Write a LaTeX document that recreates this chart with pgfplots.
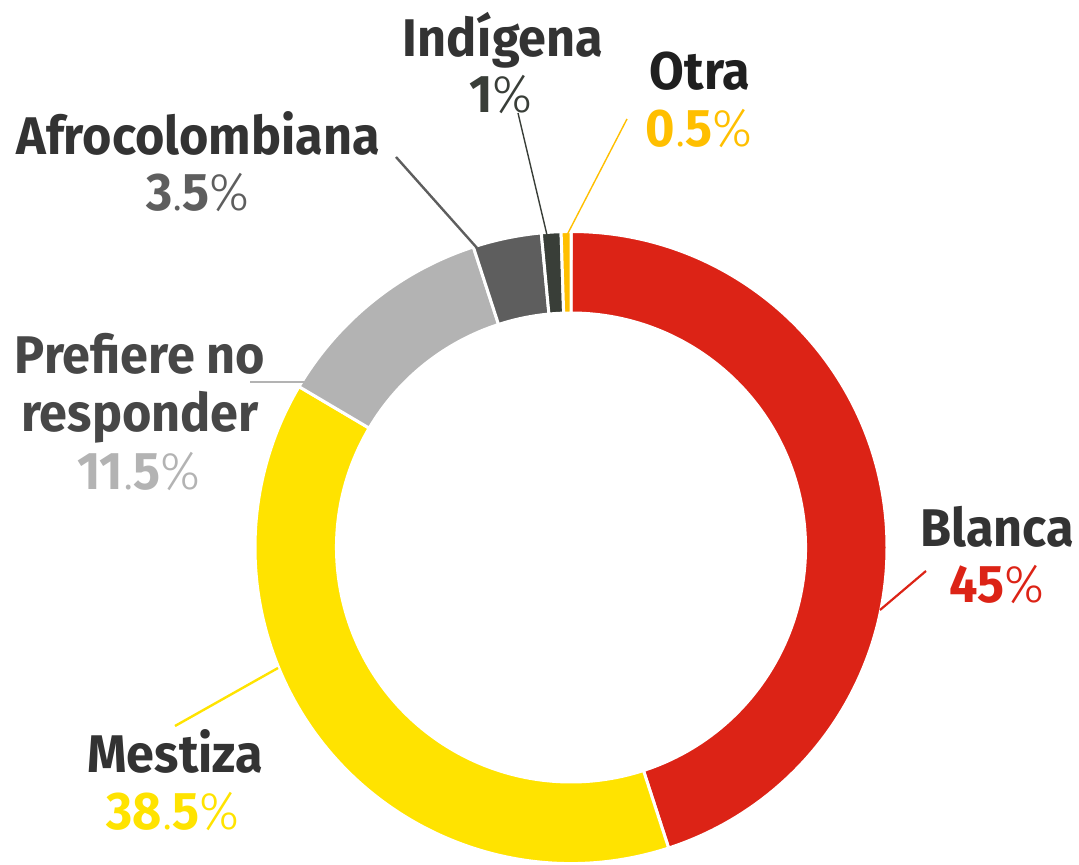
\documentclass[border=0pt]{standalone}
\usepackage{pgfplots}
\pgfplotsset{compat=1.18}
\usepackage{pgfplotstable}
\usepackage{fontspec}
\setmainfont{Fira Sans}
\newfontfamily\labf[FakeStretch=0.95]{Fira Sans Bold}
\newfontfamily\lightf[FakeStretch=0.95]{Fira Sans Light}

\definecolor{cBlanca}{HTML}{DC2316}
\definecolor{cMestiza}{HTML}{FFE300}
\definecolor{cPrefiere}{HTML}{B3B3B3}
\definecolor{cAfro}{HTML}{5E5E5E}
\definecolor{cIndigena}{HTML}{393E38}
\definecolor{cOtra}{HTML}{FFBF00}
\definecolor{txt}{HTML}{333333}

\pgfplotstableread{
label value
Blanca 45
Mestiza 38.5
Prefiere 11.5
Afro 3.5
Indigena 1
Otra 0.5
}\datatable

\def\cx{571}
\def\cy{317.5}
\def\ro{316}
\def\ri{234.5}

\gdef\cum{0}
\gdef\segs{}
\foreach \i/\c in {0/cBlanca,1/cMestiza,2/cPrefiere,3/cAfro,4/cIndigena,5/cOtra}{%
  \pgfplotstablegetelem{\i}{value}\of\datatable
  \pgfmathsetmacro\a{90-3.6*\cum}%
  \pgfmathsetmacro\b{90-3.6*(\cum+\pgfplotsretval)}%
  \pgfmathsetmacro\n{\cum+\pgfplotsretval}%
  \xdef\cum{\n}%
  \xdef\segs{\unexpanded\expandafter{\segs}%
    \noexpand\filldraw[fill=\c,draw=white,line width=3bp]
      ({\cx+\ro*cos(\a)},{\cy+\ro*sin(\a)})
      arc[start angle=\a,end angle=\b,radius=\ro bp]
      -- ({\cx+\ri*cos(\b)},{\cy+\ri*sin(\b)})
      arc[start angle=\b,end angle=\a,radius=\ri bp] -- cycle;}%
}

\newcommand\fs{\fontsize{53bp}{56bp}\selectfont}
\newcommand\pc[2]{{\labf #1}{\lightf #2}}
\tikzset{lbl/.style={font=\fs\labf, anchor=base, inner sep=0pt}}

\begin{document}
\begin{tikzpicture}
\begin{axis}[
  width=1079bp, height=865bp, scale only axis,
  xmin=0, xmax=1079, ymin=0, ymax=865,
  hide axis, clip=false,
]
\segs
% leader lines
\draw[cBlanca, line width=2.2bp] (880,255) -- (926,294);
\draw[cMestiza, line width=2.4bp] (278,197) -- (175,139);
\draw[cPrefiere, line width=2bp] (250,483) -- (305,483);
\draw[cAfro, line width=2.4bp] (396,708) -- (477,617);
\draw[cIndigena, line width=1.4bp] (518,752) -- (547,630);
\draw[cOtra, line width=1.4bp] (627,746) -- (567,630);
% labels
\node[lbl,txt] at (997,318) {\fs\labf Blanca};
\node[lbl,cBlanca] at (997,262) {\fs\pc{45}{\%}};
\node[lbl,txt] at (175,92) {\fs\labf Mestiza};
\node[lbl,cMestiza] at (173,35) {\fs{\labf 38}{\lightf .}{\labf 5}{\lightf\%}};
\node[lbl,color=black!72] at (140,491) {\fs\labf Prefiere no};
\node[lbl,color=black!72] at (140,433) {\fs\labf responder};
\node[lbl,cPrefiere] at (139,375) {\fs{\labf 11}{\lightf .}{\labf 5}{\lightf\%}};
\node[lbl,txt] at (198,710) {\fs\labf Afrocolombiana};
\node[lbl,cAfro] at (198,654) {\fs{\labf 3}{\lightf .}{\labf 5}{\lightf\%}};
\node[lbl,txt] at (503,808) {\fs\labf Indígena};
\node[lbl,cIndigena] at (501,752) {\fs\pc{1}{\%}};
\node[lbl,color=black!88] at (700,775) {\fs\labf Otra};
\node[lbl,cOtra] at (699,718) {\fs{\labf 0}{\lightf .}{\labf 5}{\lightf\%}};
\end{axis}
\pgfresetboundingbox
\path (0,0) rectangle (1079bp,865bp);
\end{tikzpicture}
\end{document}
